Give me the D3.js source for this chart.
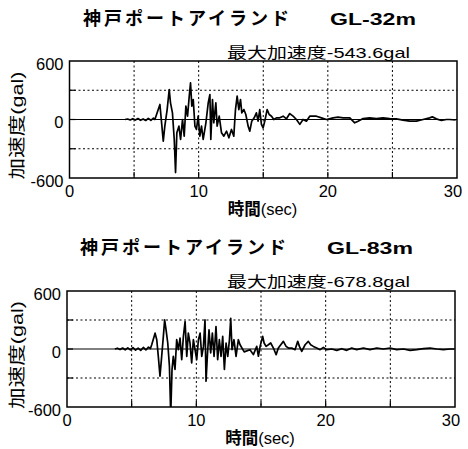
<!DOCTYPE html>
<html>
<head>
<meta charset="utf-8">
<script src="https://cdn.jsdelivr.net/npm/d3@7"></script>
<style>
  body { margin: 0; background: #fff; }
  text { font-family: "Liberation Sans", Arial, "Noto Sans CJK JP", sans-serif; fill: #000; }
</style>
</head>
<body>
<svg id="chart" width="468" height="449"></svg>
<script>
// ---- data ----
var xTicks = [0, 10, 20, 30];
var yTicks = [-600, 0, 600];
var gridX = [5, 10, 15, 20, 25];
var gridY = [-300, 300];

var station = "神戸ポートアイランド";
var depths = ["GL-32m", "GL-83m"];
var peaks = ["最大加速度-543.6gal", "最大加速度-678.8gal"];

// GL-32m  time (sec) / acceleration (gal)
var t32 = [4.3, 4.5, 4.7, 4.9, 5.1, 5.3, 5.5, 5.7, 5.9, 6.1, 6.3, 6.5, 6.61,
  7.0, 7.26, 7.38, 7.56, 7.72, 7.82, 7.97, 8.11, 8.21, 8.31, 8.47, 8.6, 8.75, 8.88,
  9.01, 9.14, 9.27, 9.37, 9.47, 9.58, 9.71, 9.83, 9.96, 10.09, 10.22, 10.35, 10.56,
  10.74, 10.87, 10.94, 11.07, 11.17, 11.33, 11.43, 11.59, 11.77, 11.95, 12.16, 12.34,
  12.54, 12.72, 12.85, 12.98, 13.11, 13.24, 13.34, 13.5, 13.65, 13.83, 13.96, 14.11,
  14.3, 14.47, 14.6, 14.73, 14.86, 14.99, 15.12, 15.3, 15.46, 15.64, 15.82, 16.02,
  16.28, 16.54, 16.8, 17.05, 17.31, 17.57, 17.83, 18.08, 18.34, 18.6, 19.12, 19.5,
  19.89, 20.41, 20.79, 21.18, 21.7, 22.08, 22.34, 22.73, 23.24, 23.76, 24.27, 24.79,
  25.3, 25.82, 26.34, 26.85, 27.37, 27.88, 28.09, 28.4, 28.79, 29.17, 29.43, 29.9];
var a32 = [0, 5, -5, 8, -6, 10, -8, 6, -10, 12, -8, 15, 0,
  154, -222, -68, 102, 307, 171, 68, -205, -544, -137, -68, -205, 0, -171,
  137, 34, 239, 375, 137, 205, -68, -102, 34, -171, -68, -205, -34,
  171, 256, -205, 205, -34, 171, -68, 34, -137, -171, -120, -188,
  -102, -171, 102, 239, 102, 205, 68, 102, 51, -68, -120, -17,
  17, 68, -17, 102, -51, -85, -17, 102, 51, 34, 0, 17,
  17, 34, 7, 61, 34, 0, -50, 0, -17, 34, 34, 17,
  0, 17, 24, 17, 17, -34, -17, 10, 17, 10, 17, 10,
  7, -7, -17, -17, 0, 17, 27, 7, -10, 0, 0, -5];

// GL-83m  time (sec) / acceleration (gal)
var t83 = [3.7, 3.9, 4.1, 4.3, 4.5, 4.7, 4.9, 5.1, 5.3, 5.5, 5.7, 5.9, 6.1, 6.3, 6.45,
  6.55, 6.81, 6.94, 7.06, 7.19, 7.32, 7.45, 7.55, 7.66, 7.79, 7.92, 8.02, 8.12, 8.22,
  8.35, 8.48, 8.61, 8.74, 8.87, 9.0, 9.13, 9.26, 9.38, 9.51, 9.64, 9.77, 9.9, 10.03,
  10.16, 10.29, 10.42, 10.55, 10.67, 10.75, 10.85, 10.98, 11.11, 11.24, 11.37, 11.52,
  11.65, 11.78, 11.91, 12.04, 12.17, 12.3, 12.43, 12.56, 12.66, 12.76, 12.91, 13.07,
  13.25, 13.38, 13.7, 14.15, 14.41, 14.67, 14.8, 14.93, 15.13, 15.24, 15.39, 15.57,
  15.75, 15.96, 16.17, 16.34, 16.53, 16.73, 16.94, 17.12, 17.38, 17.63, 17.84, 17.97,
  18.15, 18.41, 18.66, 18.84, 19.05, 19.31, 19.57, 19.82, 20.08, 20.47, 20.86, 21.24,
  21.63, 22.01, 22.4, 22.92, 23.43, 23.95, 24.46, 24.98, 25.49, 26.01, 26.53, 27.04,
  27.56, 28.07, 28.59, 29.1, 29.62, 29.95];
var a83 = [0, 8, -6, 10, -8, 12, -10, 14, -12, 10, -14, 16, -10, 20, 5,
  44, 164, 96, -76, -281, -76, 130, 301, 198, 62, -178, -679, -212, -76,
  -212, 96, -7, 113, -110, 130, 284, -76, 164, 62, -144, 96, -7, -110,
  96, 164, -76, 27, 301, -333, -76, 198, -41, 164, -76, 233,
  -110, 96, -76, 130, -212, 62, -76, 96, 318, -7, 96, -76,
  96, 44, -30, -7, -58, 27, -75, 27, 130, 62, 27, 44,
  62, 10, -58, 10, 44, 79, 27, 10, 10, -7, 79, 27,
  -24, 44, 79, 44, 27, 10, -7, 17, -7, 0, -14, 3,
  -14, 10, -7, 10, -7, 10, 0, 10, -7, 0, -14, -7,
  3, 10, 0, -7, 0, 0];

var svg = d3.select("#chart");

var drawPanel = function(p, idx) {
  var x = d3.scaleLinear().domain([0, 30]).range([p.left, p.right]);
  var y = d3.scaleLinear().domain([-600, 600]).range([p.bottom, p.top]);
  var g = svg.append("g");

  // title
  g.append("text").attr("x", p.titleX).attr("y", p.titleY)
    .attr("font-size", 18).attr("font-weight", "bold")
    .attr("textLength", 206).attr("lengthAdjust", "spacing")
    .text(station);
  g.append("text").attr("x", p.titleX + 247).attr("y", p.titleY)
    .attr("font-size", 17).attr("font-weight", "bold")
    .attr("textLength", 86).attr("lengthAdjust", "spacingAndGlyphs")
    .text(depths[idx]);
  g.append("text").attr("x", 227).attr("y", p.titleY + 33)
    .attr("font-size", 15)
    .attr("textLength", 183).attr("lengthAdjust", "spacingAndGlyphs")
    .text(peaks[idx]);

  // grid
  g.selectAll(".gx").data(gridX).enter().append("line")
    .attr("x1", x).attr("x2", x).attr("y1", p.top).attr("y2", p.bottom)
    .attr("stroke", "#000").attr("stroke-width", 1).attr("stroke-dasharray", "2,2.5");
  g.selectAll(".gy").data(gridY).enter().append("line")
    .attr("x1", p.left).attr("x2", p.right).attr("y1", y).attr("y2", y)
    .attr("stroke", "#000").attr("stroke-width", 1).attr("stroke-dasharray", "2,2.5");
  g.append("line").attr("x1", p.left).attr("x2", p.right)
    .attr("y1", y(0)).attr("y2", y(0))
    .attr("stroke", "#000").attr("stroke-width", 1);

  // small ticks inside the frame
  g.selectAll(".tx").data(gridX).enter().append("line")
    .attr("x1", x).attr("x2", x).attr("y1", p.bottom).attr("y2", p.bottom - 6)
    .attr("stroke", "#000").attr("stroke-width", 1.2);
  g.selectAll(".ty").data([-300, 0, 300]).enter().append("line")
    .attr("x1", p.left).attr("x2", p.left + 6).attr("y1", y).attr("y2", y)
    .attr("stroke", "#000").attr("stroke-width", 1.2);

  // trace
  var clipId = "clip" + idx;
  svg.append("clipPath").attr("id", clipId).append("rect")
    .attr("x", p.left).attr("y", p.top)
    .attr("width", p.right - p.left).attr("height", p.bottom - p.top);
  var line = d3.line()
    .x(function(d) { return x(d[0]); })
    .y(function(d) { return y(d[1]); });
  g.append("path")
    .datum(d3.zip(p.t, p.a))
    .attr("clip-path", "url(#" + clipId + ")")
    .attr("d", line)
    .attr("fill", "none").attr("stroke", "#000")
    .attr("stroke-width", 1.7).attr("stroke-linejoin", "round");

  // frame
  g.append("rect").attr("x", p.left).attr("y", p.top)
    .attr("width", p.right - p.left).attr("height", p.bottom - p.top)
    .attr("fill", "none").attr("stroke", "#000").attr("stroke-width", 1.5);

  // tick labels
  g.selectAll(".yl").data(yTicks).enter().append("text")
    .attr("x", p.left - 6).attr("y", function(d) { return y(d) + 8.5; })
    .attr("text-anchor", "end").attr("font-size", 16.5)
    .text(function(d) { return d; });
  g.selectAll(".xl").data(xTicks).enter().append("text")
    .attr("x", function(d, i) { return x(d) + (i == xTicks.length - 1 ? -4 : 0); })
    .attr("y", p.bottom + 19)
    .attr("text-anchor", "middle").attr("font-size", 16.5)
    .text(function(d) { return d; });

  // axis titles
  var xt = g.append("text").attr("x", p.left + 193).attr("y", p.bottom + 37)
    .attr("text-anchor", "middle").attr("font-size", 16.5);
  xt.append("tspan").attr("font-weight", "bold").text("時間");
  xt.append("tspan").text("(sec)");

  var cy = (p.top + p.bottom) / 2 + 6;
  g.append("text")
    .attr("transform", "translate(23," + cy + ") rotate(-90)")
    .attr("text-anchor", "middle").attr("font-size", 17)
    .attr("textLength", 108).attr("lengthAdjust", "spacingAndGlyphs")
    .text("加速度(gal)");
};

drawPanel({left: 69.5, right: 457, top: 61, bottom: 178, titleX: 83, titleY: 25, t: t32, a: a32}, 0);
drawPanel({left: 67, right: 455, top: 291, bottom: 407, titleX: 80, titleY: 254, t: t83, a: a83}, 1);
</script>
</body>
</html>
